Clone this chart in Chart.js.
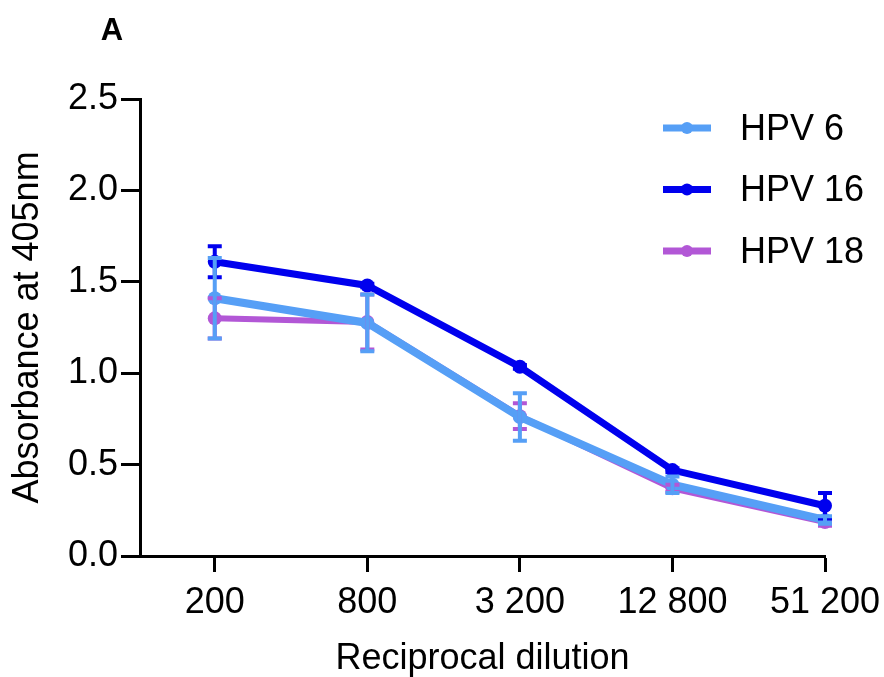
<!DOCTYPE html>
<html>
<head>
<meta charset="utf-8">
<script src="https://cdn.jsdelivr.net/npm/chart.js@4"></script>
<style>
  body { margin: 0; background: #fff; }
  #wrap { width: 884px; height: 677px; }
</style>
</head>
<body>
<div id="wrap"><canvas id="chart" width="884" height="677"></canvas></div>
<script>
// data
const categories = ['200', '800', '3 200', '12 800', '51 200'];
const yTicks = [0, 0.5, 1.0, 1.5, 2.0, 2.5];

const hpv6 = [1.41, 1.275, 0.76, 0.39, 0.197];
const hpv6Err = [0.22, 0.155, 0.13, 0.045, 0.02];

const hpv16 = [1.61, 1.48, 1.035, 0.47, 0.275];
const hpv16Err = [0.085, 0.01, 0.01, 0.01, 0.07];

const hpv18 = [1.30, 1.28, 0.765, 0.37, 0.186];
const hpv18Err = [0.11, 0.15, 0.07, 0.02, 0.02];

const FONT = 'Arial, "Liberation Sans", sans-serif';

function toPoints(values) {
    return values.map((v, i) => ({ x: i, y: v }));
}

function makeSet(label, values, errors, color, width) {
    return {
        label: label,
        data: toPoints(values),
        errors: errors,
        borderColor: color,
        backgroundColor: color,
        borderWidth: width,
        pointRadius: 7,
        pointHoverRadius: 7,
        pointBorderWidth: 0,
        tension: 0,
        clip: false,
    };
}

// error bars drawn through the scales
const errorBars = {
    id: 'errorBars',
    afterDatasetsDraw(chart) {
        const ctx = chart.ctx;
        const y = chart.scales.y;
        for (let d = chart.data.datasets.length - 1; d >= 0; d--) {
            const ds = chart.data.datasets[d];
            const meta = chart.getDatasetMeta(d);
            ctx.save();
            ctx.strokeStyle = ds.borderColor;
            ctx.lineWidth = 4;
            ds.data.forEach((p, i) => {
                const px = meta.data[i].x;
                const top = y.getPixelForValue(p.y + ds.errors[i]);
                const bot = y.getPixelForValue(p.y - ds.errors[i]);
                ctx.beginPath();
                ctx.moveTo(px, top);
                ctx.lineTo(px, bot);
                ctx.moveTo(px - 7, top);
                ctx.lineTo(px + 7, top);
                ctx.moveTo(px - 7, bot);
                ctx.lineTo(px + 7, bot);
                ctx.stroke();
            });
            ctx.restore();
        }
    }
};

// legend + panel letter
const extras = {
    id: 'extras',
    afterDraw(chart) {
        const ctx = chart.ctx;
        ctx.save();
        ctx.fillStyle = '#000';
        ctx.font = 'bold 31px ' + FONT;
        ctx.textAlign = 'center';
        ctx.textBaseline = 'middle';
        ctx.fillText('A', 112, 31);

        chart.data.datasets.forEach((ds, i) => {
            const ly = 128 + i * 61.5;
            ctx.strokeStyle = ds.borderColor;
            ctx.fillStyle = ds.borderColor;
            ctx.lineWidth = 7;
            ctx.beginPath();
            ctx.moveTo(663, ly);
            ctx.lineTo(711, ly);
            ctx.stroke();
            ctx.beginPath();
            ctx.arc(687, ly, 6, 0, Math.PI * 2);
            ctx.fill();
            ctx.fillStyle = '#000';
            ctx.font = '36px ' + FONT;
            ctx.textAlign = 'left';
            ctx.fillText(ds.label, 740, ly + 2);
        });
        ctx.restore();
    }
};

new Chart(document.getElementById('chart'), {
    type: 'line',
    data: {
        datasets: [
            makeSet('HPV 6', hpv6, hpv6Err, '#569ff6', 8),
            makeSet('HPV 16', hpv16, hpv16Err, '#0000ee', 7),
            makeSet('HPV 18', hpv18, hpv18Err, '#b257d6', 6),
        ],
    },
    options: {
        responsive: false,
        animation: false,
        layout: { padding: { top: 99, right: 59, left: 0, bottom: 0 } },
        plugins: {
            legend: { display: false },
            tooltip: { enabled: false },
        },
        scales: {
            x: {
                type: 'linear',
                min: -0.49,
                max: 4,
                afterBuildTicks: s => { s.ticks = categories.map((c, i) => ({ value: i })); },
                afterFit: s => { s.height = 121; s.paddingLeft = 0; s.paddingRight = 0; },
                ticks: {
                    callback: (v) => categories[v],
                    color: '#000',
                    font: { family: FONT, size: 36 },
                    padding: 9,
                    maxRotation: 0,
                    autoSkip: false,
                },
                grid: { drawOnChartArea: false, tickLength: 16, tickWidth: 3, tickColor: '#000' },
                border: { color: '#000', width: 3 },
                title: {
                    display: true,
                    text: 'Reciprocal dilution',
                    color: '#000',
                    font: { family: FONT, size: 36, lineHeight: 1.0 },
                    padding: { top: 0, bottom: 0 },
                },
            },
            y: {
                min: 0,
                max: 2.5,
                afterBuildTicks: s => { s.ticks = yTicks.map(v => ({ value: v })); },
                afterFit: s => { s.width = 140; s.paddingTop = 0; s.paddingBottom = 0; },
                ticks: {
                    callback: v => v.toFixed(1),
                    color: '#000',
                    font: { family: FONT, size: 36 },
                    padding: 3,
                },
                grid: { drawOnChartArea: false, tickLength: 19, tickWidth: 3, tickColor: '#000' },
                border: { color: '#000', width: 3 },
                title: {
                    display: true,
                    text: 'Absorbance at 405nm',
                    color: '#000',
                    font: { family: FONT, size: 36 },
                    padding: { top: 6, bottom: 0 },
                },
            },
        },
    },
    plugins: [errorBars, extras],
});
</script>
</body>
</html>
